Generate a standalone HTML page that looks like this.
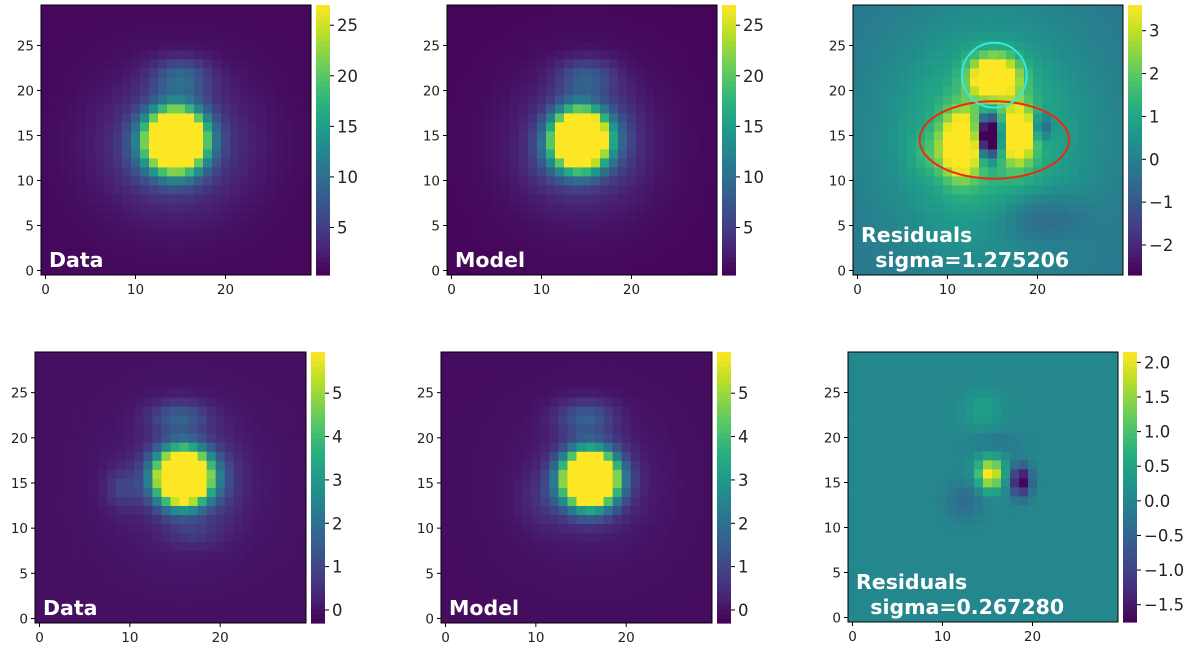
<!DOCTYPE html>
<html><head><meta charset="utf-8"><style>
html,body{margin:0;padding:0;background:#fff;}
svg{display:block;font-family:"DejaVu Sans","Liberation Sans",sans-serif;}
</style></head><body>
<svg id="fig" width="1200" height="653" viewBox="0 0 1200 653" xmlns="http://www.w3.org/2000/svg"></svg>
<script>
// Panel component data: [cx, cy, amplitude, sigmaX, sigmaY]
const topDataComps = [[14.5,14.5,60,2.1,2.2],[15,21.5,7,2.2,1.4],[14.5,14,5,6,5.5],[11,13.5,2,2,2.5]];
const topDataBg = [0.8];
const topModelComps = [[14.3,14.6,60,2.0,2.1],[15,21.5,6,2.2,1.4],[14.5,14,4.5,5.5,5.5],[19,15,1.5,1.5,3],[11,12,1.5,2,2]];
const topModelBg = [0.7];
const topResidComps = [[14.5,15,1.9,7.5,8.5],[15.2,21.5,5,1.8,1.6],[11.5,14,5,1.4,2.3],[17.9,15.2,5,1.1,2.0],[14.6,15,-7,0.9,1.6],[20.5,16,-1.8,0.8,1],[8,13,0.6,1.5,1.5],[20,6,-1,3.5,2]];
const topResidBg = [-0.2];
const botDataComps = [[15.9,15.7,14,2.0,2.0],[15.5,22.3,1.5,2.2,1.2],[9.2,14.5,0.8,1.3,1.5],[16,15,0.45,6,6],[20.5,15,0.4,1.5,3],[17,9.5,0.5,2,1]];
const botDataBg = [-0.05];
const botModelComps = [[16,15.5,14,2.0,2.0],[15.5,22.3,1.5,2.2,1.3],[16,15,0.5,5.5,5.5],[11,13,0.4,2,2]];
const botModelBg = [-0.1];
const botResidComps = [[15.3,16,2.2,1.0,1.2],[18.7,15.2,-1.9,0.8,1.2],[12.5,13,-0.45,1.5,1.5],[14.5,23,0.4,1.5,1.5],[16,19.5,-0.3,2,0.8]];
const botResidBg = [0.05];

const topDataTicks = [5,10,15,20,25];
const topResidTicks = [-2,-1,0,1,2,3];
const botDataTicks = [0,1,2,3,4,5];
const botResidTicks = [-1.5,-1.0,-0.5,0.0,0.5,1.0,1.5,2.0];
const botResidTickLabels = ["\u22121.5","\u22121.0","\u22120.5","0.0","0.5","1.0","1.5","2.0"];
const xTicks = [0,10,20];
const yTicks = [0,5,10,15,20,25];

const VIR=[[68,1,84],[72,36,117],[65,68,135],[53,95,141],[42,120,142],[33,145,140],[34,168,132],[68,191,112],[122,209,81],[189,223,38],[253,231,37]];
function viridis(t){t=Math.max(0,Math.min(1,t));const f=t*10,i=Math.min(9,Math.floor(f)),r=f-i;const a=VIR[i],b=VIR[i+1];
return `rgb(${Math.round(a[0]+(b[0]-a[0])*r)},${Math.round(a[1]+(b[1]-a[1])*r)},${Math.round(a[2]+(b[2]-a[2])*r)})`;}
const NS="http://www.w3.org/2000/svg";
const svg=document.getElementById('fig');
function mk(tag,attrs,parent){const e=document.createElementNS(NS,tag);for(const k in attrs)e.setAttribute(k,attrs[k]);(parent||svg).appendChild(e);return e;}
function val(comps,bg,x,y){let v=bg[0];for(const c of comps){const dx=(x-c[0])/c[3],dy=(y-c[1])/c[4];v+=c[2]*Math.exp(-0.5*(dx*dx+dy*dy));}return v;}

const panels=[
 {name:'top-data',x:41,y:5,s:270,comps:topDataComps,bg:topDataBg,vmin:0.3,vmax:27,ticks:topDataTicks,labels:null,title:['Data']},
 {name:'top-model',x:447,y:5,s:270,comps:topModelComps,bg:topModelBg,vmin:0.3,vmax:27,ticks:topDataTicks,labels:null,title:['Model']},
 {name:'top-residuals',x:853,y:5,s:270,comps:topResidComps,bg:topResidBg,vmin:-2.7,vmax:3.6,ticks:topResidTicks,labels:["\u22122","\u22121","0","1","2","3"],title:['Residuals',' sigma=1.275206']},
 {name:'bottom-data',x:35,y:352,s:271,comps:botDataComps,bg:botDataBg,vmin:-0.3,vmax:5.95,ticks:botDataTicks,labels:null,title:['Data']},
 {name:'bottom-model',x:441,y:352,s:271,comps:botModelComps,bg:botModelBg,vmin:-0.3,vmax:5.95,ticks:botDataTicks,labels:null,title:['Model']},
 {name:'bottom-residuals',x:848,y:352,s:270,comps:botResidComps,bg:botResidBg,vmin:-1.75,vmax:2.15,ticks:botResidTicks,labels:botResidTickLabels,title:['Residuals',' sigma=0.267280']}
];

panels.forEach(p=>{
 const g=mk('g',{});
 
 
 const cs=p.s/30;
 const hm=mk('g',{},g);
 
 
 for(let j=0;j<30;j++)for(let i=0;i<30;i++){
  const v=val(p.comps,p.bg,i,j);
  const r=mk('rect',{x:(p.x+i*cs).toFixed(2),y:(p.y+p.s-(j+1)*cs).toFixed(2),width:(cs+0.4).toFixed(2),height:(cs+0.4).toFixed(2),fill:viridis((v-p.vmin)/(p.vmax-p.vmin))},hm);
  
  
 }
 const fr=mk('rect',{x:p.x,y:p.y,width:p.s,height:p.s,fill:'none',stroke:'#000','stroke-width':1},g);
 
 
 xTicks.forEach(t=>{const px=p.x+(t+0.5)*cs;
  mk('line',{x1:px,x2:px,y1:p.y+p.s,y2:p.y+p.s+4,stroke:'#000'},g);
  const tx=mk('text',{x:px,y:p.y+p.s+19,'text-anchor':'middle','font-size':13.5,fill:'#222'},g);tx.textContent=t;
  
  });
 yTicks.forEach(t=>{const py=p.y+p.s-(t+0.5)*cs;
  mk('line',{x1:p.x-4,x2:p.x,y1:py,y2:py,stroke:'#000'},g);
  const tx=mk('text',{x:p.x-7,y:py+5,'text-anchor':'end','font-size':13.5,fill:'#222'},g);tx.textContent=t;
  
  });
 const cbx=p.x+p.s+5,cbw=14;
 const cb=mk('g',{},g);
 
 
 const n=60;
 for(let k=0;k<n;k++){mk('rect',{x:cbx,y:(p.y+p.s-(k+1)*p.s/n).toFixed(2),width:cbw,height:(p.s/n+0.6).toFixed(2),fill:viridis((k+0.5)/n)},cb);}
 p.ticks.forEach((t,ti)=>{const py=p.y+p.s-(t-p.vmin)/(p.vmax-p.vmin)*p.s;
  mk('line',{x1:cbx+cbw,x2:cbx+cbw+4,y1:py,y2:py,stroke:'#000'},cb);
  const tx=mk('text',{x:cbx+cbw+7,y:py+6,'font-size':16.5,fill:'#222'},cb);tx.textContent=p.labels?p.labels[ti]:t;
  
  });
 const lines=p.title;
 lines.forEach((l,li)=>{const ty=p.y+p.s-8-(lines.length-1-li)*25;
  const tx=mk('text',{x:p.x+8,y:ty,'font-size':20.5,'font-weight':'bold',fill:'#fff'},g);tx.textContent=l.replace(/^ /,'\u00a0\u00a0');
  
  });
 if(p.name==='top-residuals'){
  const ex=p.x+(15.2+0.5)*cs,ey=p.y+p.s-(14.5+0.5)*cs;
  const e=mk('ellipse',{cx:ex,cy:ey,rx:8.3*cs,ry:4.3*cs,fill:'none',stroke:'#ee2a10','stroke-width':2},g);
  
  
  const c=mk('circle',{cx:p.x+(15.2+0.5)*cs,cy:p.y+p.s-(21.7+0.5)*cs,r:3.6*cs,fill:'none',stroke:'#33e8e8','stroke-width':2},g);
  
  
 }
});
</script>
</body></html>
